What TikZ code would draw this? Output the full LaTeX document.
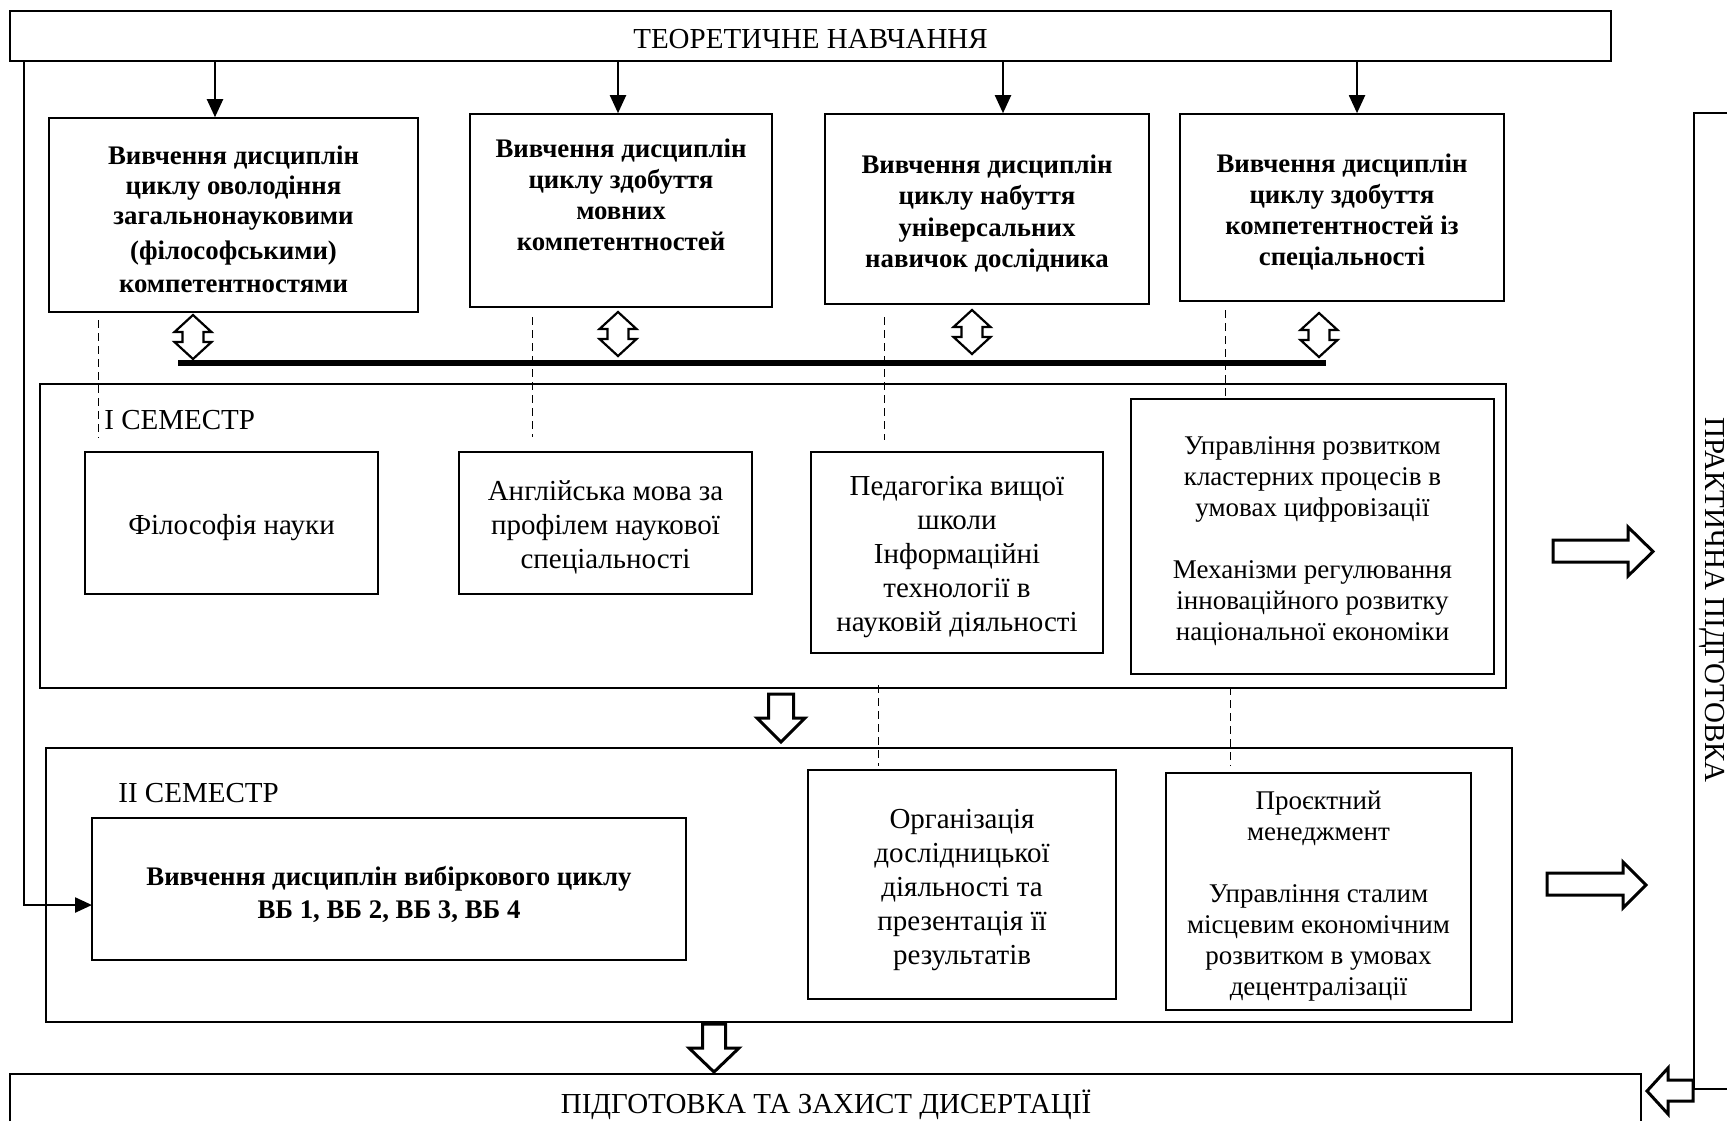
\documentclass[tikz,border=0pt]{standalone}
\usepackage{fontspec}
\setmainfont{Liberation Serif}
\usetikzlibrary{arrows.meta}
\tikzset{
  box/.style={draw, line width=0.8pt, rectangle, inner sep=0pt},
  txt/.style={inner sep=0pt, align=center, font=\fontsize{14.5}{17}\selectfont},
  btxt/.style={txt, font=\bfseries\fontsize{13.4}{15.6}\selectfont},
  stxt/.style={txt, font=\fontsize{13.5}{15.5}\selectfont},
  arr/.style={line width=1pt, -{Triangle[length=9pt,width=8pt]}},
  arrg/.style={line width=1.2pt, -{Triangle[length=8.5pt,width=7.5pt]}},
  dsh/.style={dash pattern=on 4pt off 2.5pt, line width=0.5pt},
  hollow/.style={draw, line width=1.5pt, fill=white, line join=miter},
  thin/.style={line width=0.8pt},
  updown/.pic={\draw[line width=1.1pt, fill=white, line join=miter]
    (0,0) -- (18.5,17) -- (10.5,17) -- (10.5,27) -- (18.5,27) -- (0,44)
    -- (-18.5,27) -- (-10.5,27) -- (-10.5,17) -- (-18.5,17) -- cycle;}
}
\begin{document}
\begin{tikzpicture}[x=0.5pt,y=-0.5pt]
\useasboundingbox (0,0) rectangle (1727,1121);
\fill[white] (0,0) rectangle (1727,1121);

% top box
\node[box, minimum width=800.5pt, minimum height=25pt] (top) at (810.5,36) {};
\node[txt] (topt) at (810.5,39.5) {ТЕОРЕТИЧНЕ НАВЧАННЯ};

% row of four boxes
\node[box, minimum width=184.5pt, minimum height=97pt] (A) at (233.5,215) {};
\node[btxt, font=\bfseries\fontsize{13.4}{15.1}\selectfont] (At) at (233.5,219.5)
  {Вивчення дисциплін\\циклу оволодіння\\загальнонауковими\\[2.4pt](філософськими)\\[1.4pt]компетентностями};
\node[box, minimum width=151pt, minimum height=96.5pt] (B) at (621,210.5) {};
\node[btxt] (Bt) at (621,195) {Вивчення дисциплін\\циклу здобуття\\мовних\\компетентностей};
\node[box, minimum width=162pt, minimum height=95pt] (C) at (987,209) {};
\node[btxt] (Ct) at (987,213.5)
  {Вивчення дисциплін\\циклу набуття\\універсальних\\навичок дослідника};
\node[box, minimum width=162pt, minimum height=93.5pt] (D) at (1342,207.5) {};
\node[btxt] (Dt) at (1342,212)
  {Вивчення дисциплін\\циклу здобуття\\компетентностей із\\спеціальності};

% arrows from top
\coordinate (a1) at (215,0);
\coordinate (a2) at (618,0);
\coordinate (a3) at (1003,0);
\coordinate (a4) at (1357,0);
\draw[arr] (top.south -| a1) -- (A.north -| a1);
\draw[arr] (top.south -| a2) -- (B.north -| a2);
\draw[arr] (top.south -| a3) -- (C.north -| a3);
\draw[arr] (top.south -| a4) -- (D.north -| a4);

% double arrows and bar
\pic at (193,315) {updown};
\pic at (618,312) {updown};
\pic at (972,310) {updown};
\pic at (1319,313) {updown};
\coordinate (bar1) at (178,363);
\coordinate (bar2) at (1326,363);
\draw[line width=3pt] (bar1) -- (bar2);

% semester I
\node[box, minimum width=733pt, minimum height=152pt] (S1) at (773,536) {};
\node[txt, anchor=west] (S1l) at (104,420) {І СЕМЕСТР};
\node[box, minimum width=146.5pt, minimum height=71pt] (F1) at (231.5,523) {};
\node[txt] (F1t) at (231.5,527.5) {Філософія науки};
\node[box, minimum width=146.5pt, minimum height=71pt] (F2) at (605.5,523) {};
\node[txt] (F2t) at (605.5,527)
  {Англійська мова за\\профілем наукової\\спеціальності};
\node[box, minimum width=146pt, minimum height=100.5pt] (F3) at (957,552.5) {};
\node[txt] (F3t) at (957,557.5)
  {Педагогіка вищої\\школи\\Інформаційні\\технології в\\науковій діяльності};
\node[box, minimum width=181.5pt, minimum height=137.5pt] (F4) at (1312.5,536.5) {};
\node[stxt] (F4t) at (1312.5,541)
  {Управління розвитком\\кластерних процесів в\\умовах цифровізації\\[15.5pt]Механізми регулювання\\інноваційного розвитку\\національної економіки};

% dashed lines
\coordinate (d1s) at (98,320);  \coordinate (d1e) at (98,438);
\coordinate (d2s) at (532,317); \coordinate (d2e) at (532,437);
\coordinate (d3s) at (884,317); \coordinate (d3e) at (884,440);
\coordinate (d4s) at (1225,310);\coordinate (d4e) at (1225,397);
\draw[dsh] (d1s) -- (d1e);
\draw[dsh] (d2s) -- (d2e);
\draw[dsh] (d3s) -- (d3e);
\draw[dsh] (d4s) -- (d4e);
\coordinate (d5s) at (878,685); \coordinate (d5e) at (878,766);
\coordinate (d6s) at (1230,687); \coordinate (d6e) at (1230,766);
\draw[dsh] (d5s) -- (d5e);
\draw[dsh] (d6s) -- (d6e);

% hollow arrow S1 -> S2
\draw[hollow] (768.5,694) -- (793.5,694) -- (793.5,718) -- (805,718) -- (781,742) -- (757,718) -- (768.5,718) -- cycle;

% semester II
\node[box, minimum width=733pt, minimum height=137pt] (S2) at (779,885) {};
\node[txt, anchor=west] (S2l) at (118,793) {ІІ СЕМЕСТР};
\node[box, minimum width=297pt, minimum height=71pt] (G) at (389,889) {};
\node[btxt, font=\bfseries\fontsize{13.4}{16.5}\selectfont] (Gt) at (389,894.5)
  {Вивчення дисциплін вибіркового циклу\\ВБ 1, ВБ 2, ВБ 3, ВБ 4};
\node[box, minimum width=154pt, minimum height=114.5pt] (H) at (962,884.5) {};
\node[txt] (Ht) at (962,890.5)
  {Організація\\дослідницької\\діяльності та\\презентація її\\результатів};
\node[box, minimum width=152.5pt, minimum height=118.5pt] (I) at (1318.5,891.5) {};
\node[stxt] (It) at (1318.5,896.5)
  {Проєктний\\менеджмент\\[15.5pt]Управління сталим\\місцевим економічним\\розвитком в умовах\\децентралізації};

% left line into G
\coordinate (lx) at (24,0);
\coordinate (gin) at (92,905);
\draw[arrg] (top.south -| lx) |- (gin);

% hollow arrow S2 -> bottom
\draw[hollow] (702.5,1024) -- (725.5,1024) -- (725.5,1048) -- (739,1048) -- (714,1072) -- (689,1048) -- (702.5,1048) -- cycle;

% bottom box (cut off)
\draw[thin] (10,1121) -- (10,1074) -- (1641,1074) -- (1641,1121);
\node[txt, anchor=base] (bot) at (826,1113) {ПІДГОТОВКА ТА ЗАХИСТ ДИСЕРТАЦІЇ};

% practical box (cut off)
\draw[line width=1pt] (1727,113) -- (1694,113) -- (1694,1089) -- (1727,1089);
\node[txt, rotate=-90, anchor=base] (prak) at (1705.5,600) {ПРАКТИЧНА ПІДГОТОВКА};

% right hollow arrows
\draw[hollow] (1553,540) -- (1628,540) -- (1628,527) -- (1653,551.5) -- (1628,576) -- (1628,562) -- (1553,562) -- cycle;
\draw[hollow] (1547,873) -- (1623,873) -- (1623,862) -- (1646,885) -- (1623,908) -- (1623,895) -- (1547,895) -- cycle;
\draw[hollow] (1693,1080) -- (1668,1080) -- (1668,1068) -- (1647,1091) -- (1668,1114) -- (1668,1101) -- (1693,1101) -- cycle;
\end{tikzpicture}
\end{document}
